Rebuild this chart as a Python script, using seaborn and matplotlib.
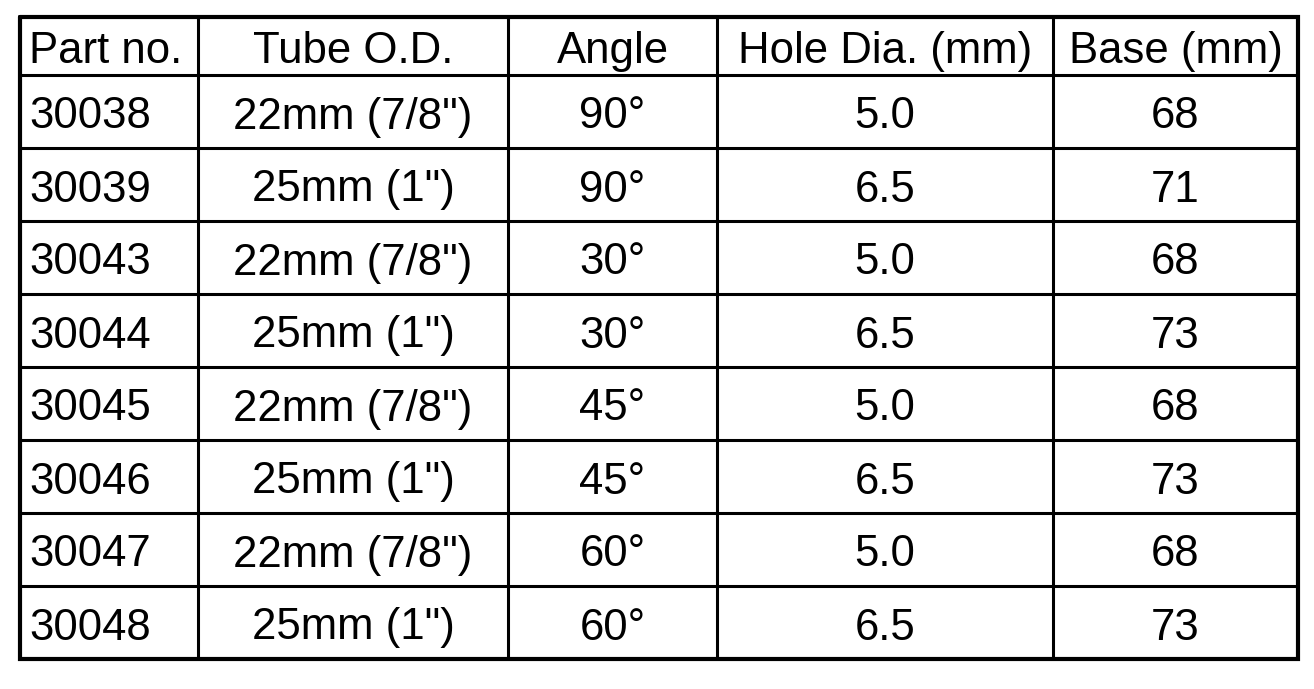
import matplotlib
matplotlib.use("Agg")
import matplotlib.pyplot as plt
import seaborn as sns

# table content
headers = ["Part no.", "Tube O.D.", "Angle", "Hole Dia. (mm)", "Base (mm)"]
part_no = ["30038", "30039", "30043", "30044", "30045", "30046", "30047", "30048"]
tube_od = ['22mm (7/8")', '25mm (1")', '22mm (7/8")', '25mm (1")',
           '22mm (7/8")', '25mm (1")', '22mm (7/8")', '25mm (1")']
angle = ["90°", "90°", "30°", "30°", "45°", "45°", "60°", "60°"]
hole_dia = [5.0, 6.5, 5.0, 6.5, 5.0, 6.5, 5.0, 6.5]
base = [68, 71, 68, 73, 68, 73, 68, 73]

sns.set_theme(style="white")
plt.rcParams['font.family'] = ['Liberation Sans', 'DejaVu Sans']

W, H = 1314, 689
fig = plt.figure(figsize=(W / 100, H / 100), dpi=100)
ax = fig.add_axes([0, 0, 1, 1])
ax.set_xlim(0, W)
ax.set_ylim(H, 0)
ax.axis("off")

# grid layout in pixels
col_edges = [20, 198, 508, 717, 1053, 1298]
header_top, header_bot, row_h = 17, 75, 73
row_edges = [header_top] + [header_bot + i * row_h for i in range(len(part_no) + 1)]
top, bottom = row_edges[0], row_edges[-1]

for x in col_edges[1:-1]:
    ax.plot([x, x], [top, bottom], color="black", lw=2.2, solid_capstyle="butt")
for y in row_edges[1:-1]:
    ax.plot([col_edges[0], col_edges[-1]], [y, y], color="black", lw=2.2, solid_capstyle="butt")
ax.plot([col_edges[0], col_edges[-1], col_edges[-1], col_edges[0], col_edges[0]],
        [top, top, bottom, bottom, top], color="black", lw=3.0, solid_joinstyle="miter")

fs = 31.5
centers = [(col_edges[i] + col_edges[i + 1]) / 2 for i in range(len(col_edges) - 1)]


def put(col, y, s):
    if col == 0:
        ax.text(col_edges[0] + 9, y, s, ha="left", va="center_baseline", fontsize=fs, color="black")
    else:
        ax.text(centers[col], y, s, ha="center", va="center_baseline", fontsize=fs, color="black")


hy = (row_edges[0] + row_edges[1]) / 2 + 1
for c, h in enumerate(headers):
    put(c, hy, h)

for r in range(len(part_no)):
    y = (row_edges[r + 1] + row_edges[r + 2]) / 2 + 1
    vals = [part_no[r], tube_od[r], angle[r], f"{hole_dia[r]:.1f}", str(base[r])]
    for c, v in enumerate(vals):
        put(c, y, v)

fig.savefig("out.png", dpi=100, facecolor="white")
